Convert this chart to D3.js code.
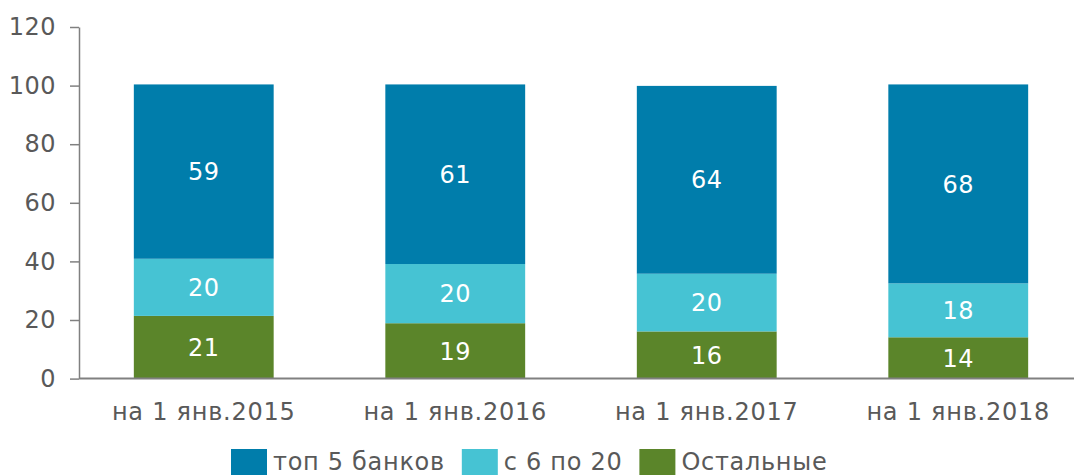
<!DOCTYPE html>
<html>
<head>
<meta charset="utf-8">
<script src="https://cdn.jsdelivr.net/npm/d3@7"></script>
<style>
  body { margin: 0; background: #fff; }
  text { font-family: "DejaVu Sans", Verdana, sans-serif; }
</style>
</head>
<body>
<div id="chart"></div>
<script>
// data (labels show rounded values)
const categories = ["на 1 янв.2015", "на 1 янв.2016", "на 1 янв.2017", "на 1 янв.2018"];
const seriesNames = ["Остальные", "с 6 по 20", "топ 5 банков"];
const others = [21.4, 18.9, 16.1, 14.1];
const mid = [19.5, 20.2, 19.7, 18.4];
const top5 = [59.5, 61.3, 64.1, 67.9];
const labelsOthers = [21, 19, 16, 14];
const labelsMid = [20, 20, 20, 18];
const labelsTop5 = [59, 61, 64, 68];
const yTicks = [0, 20, 40, 60, 80, 100, 120];

const colors = {"топ 5 банков": "#007dab", "с 6 по 20": "#46c3d3", "Остальные": "#5b852a"};

const W = 1074, H = 475;
const svg = d3.select("#chart").append("svg")
  .attr("width", W).attr("height", H);

const rows = categories.map((c, i) => ({
  cat: c,
  "Остальные": others[i],
  "с 6 по 20": mid[i],
  "топ 5 банков": top5[i],
  labels: [labelsOthers[i], labelsMid[i], labelsTop5[i]]
}));

const x = d3.scaleBand()
  .domain(categories)
  .range([78, 1084])
  .paddingInner(0.444)
  .paddingOuter(0.222);

const y = d3.scaleLinear()
  .domain([0, 120])
  .range([378.6, 27]);

const stack = d3.stack().keys(seriesNames);
const layers = stack(rows);

// bars
layers.forEach((layer, li) => {
  const g = svg.append("g");
  g.selectAll("rect")
    .data(layer)
    .join("rect")
      .attr("x", d => x(d.data.cat))
      .attr("width", x.bandwidth())
      .attr("y", d => y(d[1]))
      .attr("height", d => y(d[0]) - y(d[1]))
      .attr("fill", colors[layer.key]);
  g.selectAll("text")
    .data(layer)
    .join("text")
      .attr("x", d => x(d.data.cat) + x.bandwidth() / 2)
      .attr("y", d => (y(d[0]) + y(d[1])) / 2)
      .attr("dy", "0.36em")
      .attr("text-anchor", "middle")
      .attr("fill", "#fff")
      .style("font-size", "24px")
      .style("letter-spacing", "0.5px")
      .text(d => d.data.labels[li]);
});

// y axis
const yAxis = svg.append("g")
  .attr("transform", "translate(79,0)")
  .call(d3.axisLeft(y).tickValues(yTicks).tickSize(9).tickSizeOuter(0).tickPadding(14));
yAxis.select(".domain").attr("stroke", "#808080").attr("stroke-width", 1.5);
yAxis.selectAll(".tick line").attr("stroke", "#808080").attr("stroke-width", 1.5);
yAxis.selectAll(".tick text")
  .attr("fill", "#595959")
  .style("font-size", "24px")
  .style("letter-spacing", "0.5px")
  .style("font-family", "DejaVu Sans, Verdana, sans-serif");

// x axis
const xAxis = svg.append("g")
  .attr("transform", `translate(0,${y(0)})`)
  .call(d3.axisBottom(x).tickSize(0).tickPadding(41));
xAxis.select(".domain").attr("d", `M79,0H${W}`).attr("stroke", "#808080").attr("stroke-width", 2);
xAxis.selectAll(".tick text")
  .attr("fill", "#595959")
  .attr("dy", 0)
  .style("font-size", "24px")
  .style("letter-spacing", "0.75px")
  .style("font-family", "DejaVu Sans, Verdana, sans-serif");

// legend
const legendOrder = ["топ 5 банков", "с 6 по 20", "Остальные"];
let lx = 231;
legendOrder.forEach(name => {
  svg.append("rect")
    .attr("x", lx).attr("y", 449)
    .attr("width", 36).attr("height", 36)
    .attr("fill", colors[name]);
  const t = svg.append("text")
    .attr("x", lx + 42).attr("y", 470)
    .attr("fill", "#595959")
    .style("font-size", "24px")
    .style("letter-spacing", "0.7px")
    .text(name);
  lx += 42 + t.node().getComputedTextLength() + 17;
});
</script>
</body>
</html>
